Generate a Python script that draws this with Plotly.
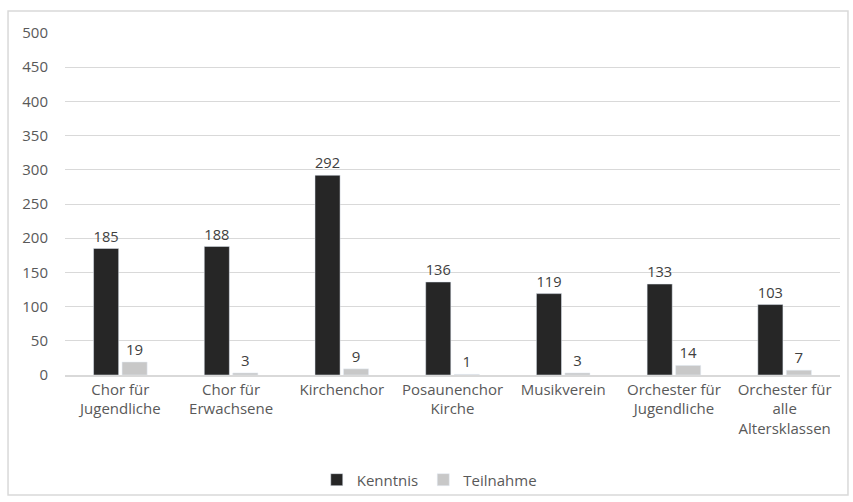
import plotly.graph_objects as go

# category labels (line breaks as in the original chart)
categories = [
    "Chor für<br>Jugendliche",
    "Chor für<br>Erwachsene",
    "Kirchenchor",
    "Posaunenchor<br>Kirche",
    "Musikverein",
    "Orchester für<br>Jugendliche",
    "Orchester für<br>alle<br>Altersklassen",
]
kenntnis = [185, 188, 292, 136, 119, 133, 103]
teilnahme = [19, 3, 9, 1, 3, 14, 7]
y_ticks = [0, 50, 100, 150, 200, 250, 300, 350, 400, 450, 500]

FONT = "Open Sans, Liberation Sans, sans-serif"
TXT = "#595959"

fig = go.Figure()
fig.add_trace(go.Bar(
    x=categories, y=kenntnis, name="Kenntnis",
    marker=dict(color="#262626"),
    text=kenntnis, textposition="outside", cliponaxis=False,
    textfont=dict(color="#404040", size=15, family=FONT),
))
fig.add_trace(go.Bar(
    x=categories, y=teilnahme, name="Teilnahme",
    marker=dict(color="#c8c8c8"),
    text=teilnahme, textposition="outside", cliponaxis=False,
    textfont=dict(color="#404040", size=15, family=FONT),
))

# outer chart border
fig.add_shape(type="rect", xref="paper", yref="paper",
              x0=-0.0735, x1=1.0103, y0=-0.351, y1=1.064,
              line=dict(color="#d9d9d9", width=1.5), layer="below")

fig.update_layout(
    width=853, height=502,
    margin=dict(l=65, r=13, t=33, b=127),
    paper_bgcolor="white", plot_bgcolor="white",
    font=dict(family=FONT, color=TXT, size=15),
    barmode="group", bargap=0.485, bargroupgap=0.12,
    showlegend=True,
    legend=dict(orientation="h", x=0.47, xanchor="center",
                yref="container", y=0.044, yanchor="middle",
                bgcolor="rgba(0,0,0,0)",
                font=dict(size=15, color=TXT), itemwidth=30,
                traceorder="normal"),
    xaxis=dict(showline=True, linecolor="#d9d9d9", linewidth=1.5,
               ticks="", automargin=False,
               tickfont=dict(size=15, color=TXT)),
    yaxis=dict(range=[0, 500], tickvals=y_ticks, showgrid=True,
               gridcolor="#d9d9d9", gridwidth=1, zeroline=False,
               ticks="", ticklabelstandoff=16, automargin=False,
               tickfont=dict(size=15, color=TXT)),
)

# page has a default 8px body margin; remove it so the figure fills the window
fig.write_html("out.html", config={"displayModeBar": False},
               post_script="document.body.style.margin='0';")
